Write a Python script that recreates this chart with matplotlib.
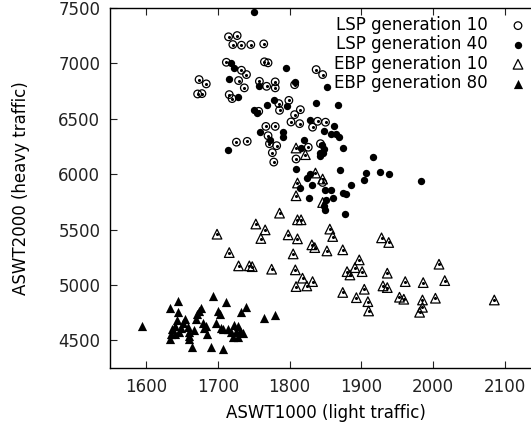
import matplotlib
matplotlib.use("Agg")
import matplotlib.pyplot as plt

# LSP generation 10 (open circles)
lsp10_x = [1715, 1727, 1721, 1733, 1746, 1764, 1712, 1765, 1770, 1837,
           1846, 1733, 1740, 1729, 1737, 1674, 1684, 1672, 1678, 1758,
           1768, 1780, 1780, 1716, 1720, 1807, 1799, 1785, 1786, 1757,
           1815, 1807, 1802, 1814, 1767, 1780, 1770, 1726, 1741, 1772,
           1782, 1776, 1778, 1832, 1839, 1850, 1826, 1843, 1809, 1846]
lsp10_y = [7240, 7251, 7170, 7164, 7170, 7176, 7010, 7014, 7005, 6944,
           6899, 6938, 6899, 6845, 6779, 6854, 6815, 6724, 6727, 6838,
           6793, 6833, 6779, 6718, 6682, 6808, 6666, 6637, 6576, 6567,
           6582, 6537, 6471, 6456, 6431, 6431, 6347, 6289, 6296, 6275,
           6257, 6194, 6109, 6424, 6477, 6469, 6243, 6275, 6137, 5925]

# LSP generation 40 (filled circles)
lsp40_x = [1751, 1718, 1722, 1795, 1715, 1808, 1852, 1757, 1728, 1779,
           1837, 1868, 1769, 1797, 1750, 1755, 1828, 1848, 1862, 1858,
           1865, 1869, 1791, 1791, 1759, 1773, 1820, 1714, 1816, 1845,
           1848, 1842, 1847, 1843, 1875, 1916, 1809, 1870, 1828, 1824,
           1906, 1926, 1938, 1904, 1983, 1885, 1831, 1814, 1849, 1858,
           1874, 1878, 1861, 1827, 1851, 1848, 1849, 1877]
lsp40_y = [7466, 7005, 6962, 6958, 6863, 6831, 6788, 6795, 6700, 6670,
           6643, 6620, 6628, 6619, 6582, 6551, 6492, 6390, 6431, 6363,
           6363, 6332, 6379, 6336, 6379, 6311, 6308, 6221, 6236, 6266,
           6225, 6191, 6191, 6166, 6232, 6155, 6049, 6034, 6000, 5965,
           6010, 6015, 6001, 5949, 5934, 5904, 5904, 5874, 5853, 5859,
           5829, 5823, 5789, 5784, 5769, 5708, 5678, 5637]

# EBP generation 10 (open triangles)
ebp10_x = [1809, 1822, 1836, 1846, 1811, 1809, 1846, 1786, 1811, 1816,
           1753, 1766, 1856, 1699, 1760, 1798, 1811, 1860, 1928, 1938,
           1831, 1835, 1852, 1874, 1716, 1805, 1897, 1891, 1880, 1884,
           1901, 1936, 2008, 1729, 1744, 1748, 1775, 1808, 1818, 1832,
           1809, 1824, 1961, 1986, 2016, 1930, 1936, 1874, 1904, 1893,
           1953, 1959, 1985, 2003, 1909, 1985, 1910, 1981, 2085]
ebp10_y = [6236, 6176, 6010, 5956, 5920, 5805, 5744, 5648, 5588, 5588,
           5550, 5497, 5504, 5458, 5419, 5452, 5416, 5437, 5425, 5383,
           5362, 5337, 5307, 5317, 5292, 5280, 5226, 5156, 5120, 5090,
           5120, 5106, 5187, 5172, 5172, 5165, 5142, 5136, 5061, 5030,
           4985, 4991, 5030, 5021, 5039, 4991, 4976, 4932, 4961, 4885,
           4889, 4871, 4864, 4880, 4849, 4798, 4765, 4753, 4864]

# EBP generation 80 (filled triangles)
ebp80_x = [1595, 1645, 1633, 1645, 1693, 1711, 1739, 1677, 1674, 1671,
           1701, 1703, 1733, 1765, 1780, 1655, 1643, 1670, 1698, 1641,
           1637, 1635, 1633, 1646, 1649, 1658, 1660, 1660, 1660, 1679,
           1683, 1685, 1708, 1714, 1723, 1728, 1726, 1731, 1735, 1719,
           1721, 1728, 1664, 1691, 1708, 1681, 1652, 1667, 1705, 1640]
ebp80_y = [4629, 4858, 4795, 4756, 4901, 4846, 4804, 4792, 4765, 4738,
           4765, 4738, 4756, 4699, 4724, 4693, 4684, 4690, 4656, 4629,
           4599, 4554, 4514, 4571, 4608, 4616, 4578, 4539, 4509, 4656,
           4625, 4555, 4599, 4599, 4638, 4629, 4578, 4580, 4566, 4571,
           4533, 4530, 4442, 4444, 4421, 4609, 4655, 4590, 4610, 4560]

labels = ["LSP generation 10", "LSP generation 40",
          "EBP generation 10", "EBP generation 80"]

plt.rcParams["font.family"] = "DejaVu Sans"
plt.rcParams["font.size"] = 12

fig = plt.figure(figsize=(5.31, 4.29), dpi=100)
ax = fig.add_axes([110 / 531, 61 / 429, 431 / 531, 360 / 429])

lw = 0.9
ax.scatter(lsp10_x, lsp10_y, s=30, marker="o", facecolors="none",
           edgecolors="black", linewidths=lw, label=labels[0], zorder=3)
ax.scatter(lsp10_x, lsp10_y, s=1.5, marker="o", color="black", zorder=3)
ax.scatter(lsp40_x, lsp40_y, s=28, marker="o", color="black",
           linewidths=0, label=labels[1], zorder=3)
ax.scatter(ebp10_x, ebp10_y, s=48, marker="^", facecolors="none",
           edgecolors="black", linewidths=lw, label=labels[2], zorder=3)
ax.scatter(ebp10_x, ebp10_y, s=1.5, marker="o", color="black", zorder=3)
ax.scatter(ebp80_x, ebp80_y, s=44, marker="^", color="black",
           linewidths=0, label=labels[3], zorder=3)

ax.set_xlim(1550, 2150)
ax.set_ylim(4250, 7500)
ax.set_xticks([1600, 1700, 1800, 1900, 2000, 2100])
ax.set_yticks([4500, 5000, 5500, 6000, 6500, 7000, 7500])
ax.tick_params(direction="in", length=5, width=0.8, top=True, right=True,
               labelsize=12, pad=7, colors="#222222")
for sp in ax.spines.values():
    sp.set_linewidth(1.0)

ax.set_xlabel("ASWT1000 (light traffic)", fontsize=12, labelpad=6)
ax.set_ylabel("ASWT2000 (heavy traffic)", fontsize=12, labelpad=20)

fig.legend(loc="upper right", bbox_to_anchor=(528 / 531, 1 - 16 / 429),
           markerfirst=False, frameon=False, fontsize=12,
           labelspacing=0.08, handletextpad=1.2, handlelength=1.2,
           borderpad=0, borderaxespad=0)

fig.savefig("out.png", dpi=100)
